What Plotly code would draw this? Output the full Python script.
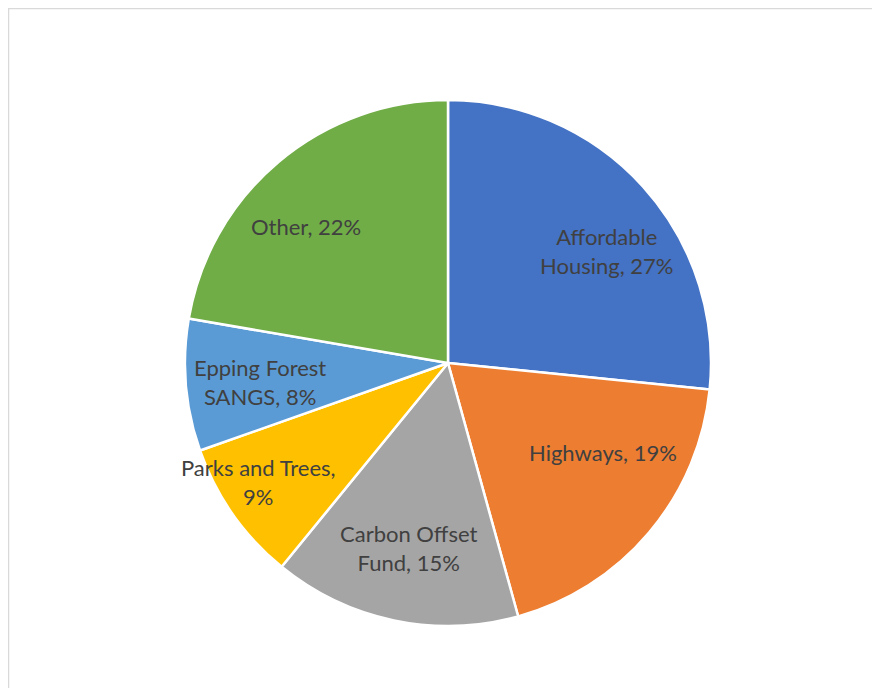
import math
import plotly.graph_objects as go

labels = ["Affordable Housing", "Highways", "Carbon Offset Fund",
          "Parks and Trees", "Epping Forest SANGS", "Other"]
values = [26.6, 19.1, 15.2, 8.7, 8.1, 22.3]
label_lines = [["Affordable", "Housing, "], ["Highways, "], ["Carbon Offset", "Fund, "],
               ["Parks and Trees,", ""], ["Epping Forest", "SANGS, "], ["Other, "]]
colors = ["#4472C4", "#ED7D31", "#A5A5A5", "#FFC000", "#5B9BD5", "#70AD47"]

W, H = 880, 688
cx, cy, R = 440, 355, 263
label_r = [0.74, 0.68, 0.72, 0.85, 0.72, 0.75]
label_da = [7, -10, 0, 3, -1, -6]

fig = go.Figure(go.Pie(
    labels=labels, values=values, sort=False, direction="clockwise", rotation=0,
    marker=dict(colors=colors, line=dict(color="white", width=2.5)),
    textinfo="none", hoverinfo="label+percent", showlegend=False,
    domain=dict(x=[(cx - R) / W, (cx + R) / W], y=[1 - (cy + R) / H, 1 - (cy - R) / H]),
))

total = sum(values)
cum = 0
for i, v in enumerate(values):
    pct = f"{round(v / total * 100)}%"
    lines = list(label_lines[i])
    lines[-1] = lines[-1] + pct
    text = "<br>".join(lines)
    mid = (cum + v / 2) / total * 360 + label_da[i]
    cum += v
    a = math.radians(mid)
    px = cx + label_r[i] * R * math.sin(a)
    py = cy - label_r[i] * R * math.cos(a)
    fig.add_annotation(x=px / W, y=1 - py / H, xref="paper", yref="paper",
                       text=text, showarrow=False,
                       font=dict(family="Lato", size=22, color="#404040"),
                       align="center", xanchor="center", yanchor="middle")

fig.add_shape(type="rect", xref="paper", yref="paper",
              x0=0.5 / W, x1=1.05, y0=-0.05, y1=1 - 0.5 / H,
              line=dict(color="#d9d9d9", width=1.5), fillcolor="rgba(0,0,0,0)")

fig.update_layout(width=W, height=H, margin=dict(l=0, r=0, t=0, b=0),
                  paper_bgcolor="white", plot_bgcolor="white")
fig.write_html("out.html")
